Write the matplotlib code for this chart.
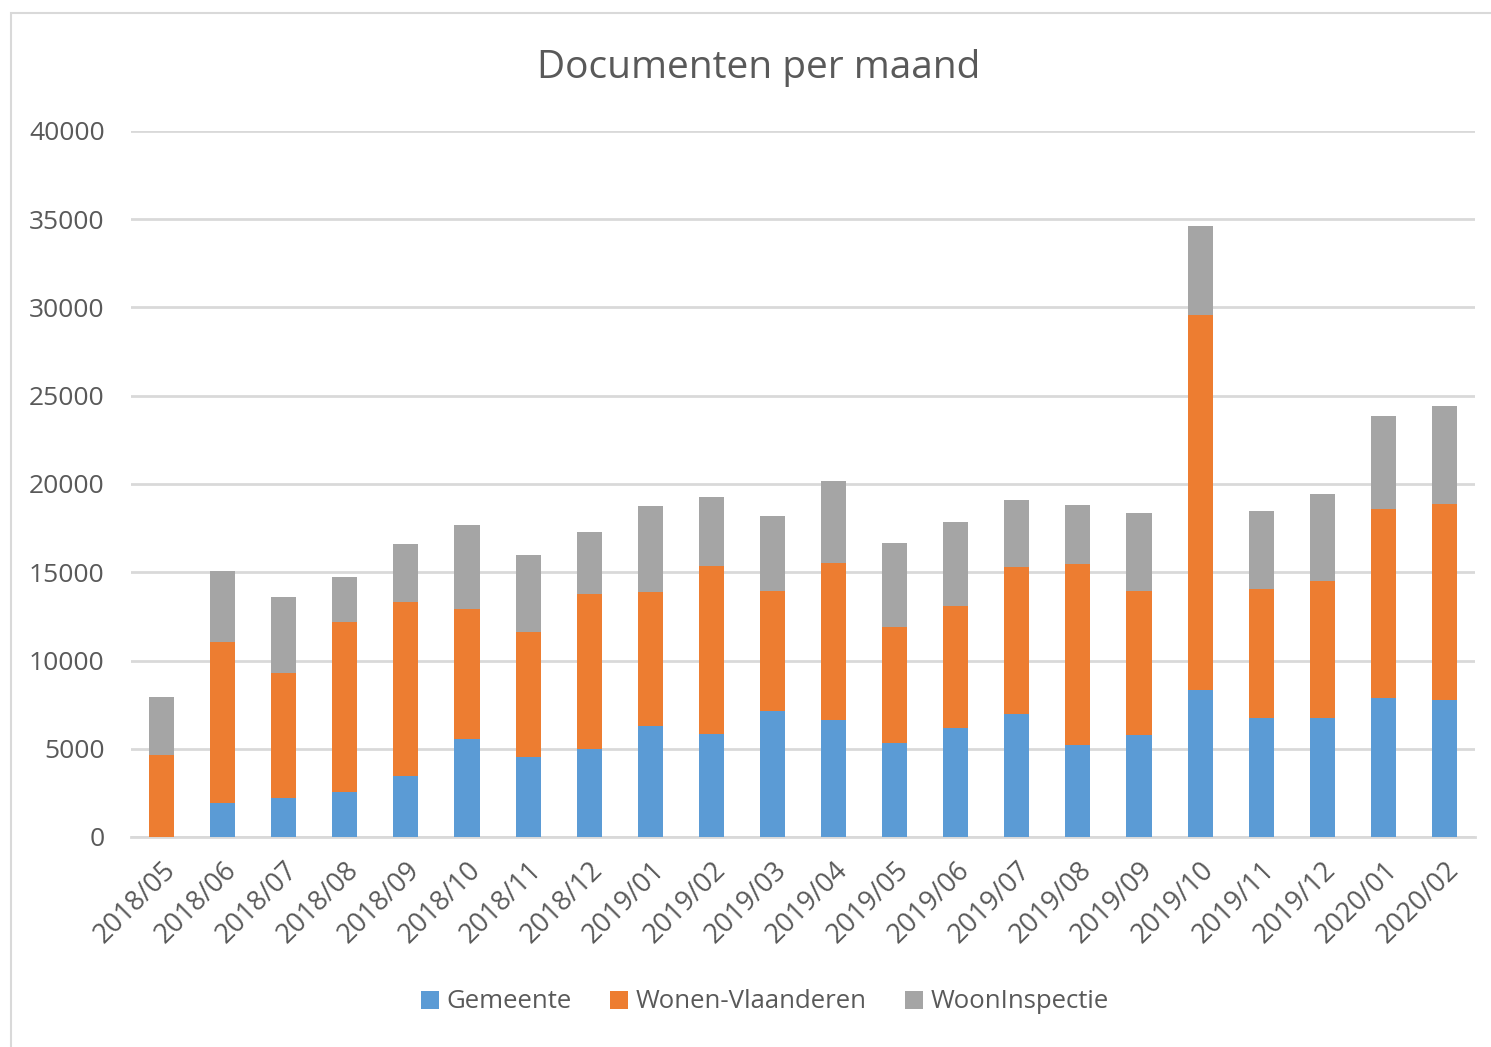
import matplotlib
matplotlib.use('Agg')
import matplotlib.pyplot as plt
from matplotlib.patches import Rectangle
import numpy as np

months = ['2018/05', '2018/06', '2018/07', '2018/08', '2018/09', '2018/10', '2018/11',
          '2018/12', '2019/01', '2019/02', '2019/03', '2019/04', '2019/05', '2019/06',
          '2019/07', '2019/08', '2019/09', '2019/10', '2019/11', '2019/12', '2020/01',
          '2020/02']

# cumulative tops, converted to per-series values below
gemeente = [0, 1930, 2200, 2550, 3460, 5550, 4530, 4990, 6290, 5840, 7140, 6630,
            5330, 6180, 6970, 5210, 5780, 8330, 6740, 6740, 7880, 7760]
wonen_top = [4650, 11050, 9300, 12200, 13300, 12900, 11600, 13770, 13880, 15350, 13940,
             15520, 11900, 13090, 15300, 15470, 13940, 29580, 14050, 14500, 18580, 18870]
total_top = [7950, 15070, 13600, 14730, 16600, 17680, 15980, 17280, 18750, 19260, 18190,
             20170, 16660, 17850, 19090, 18810, 18360, 34620, 18470, 19430, 23850, 24420]

wonen = [w - g for w, g in zip(wonen_top, gemeente)]
inspectie = [t - w for t, w in zip(total_top, wonen_top)]

series = [('Gemeente', gemeente, '#5B9BD5'),
          ('Wonen-Vlaanderen', wonen, '#ED7D31'),
          ('WoonInspectie', inspectie, '#A5A5A5')]

plt.rcParams['font.family'] = ['Open Sans', 'DejaVu Sans']
text_color = '#595959'

fig = plt.figure(figsize=(14.91, 10.47), dpi=100)
fig.patches.append(Rectangle((11 / 1491, -0.1), 1.2, 1 - 13 / 1047 + 0.1,
                             transform=fig.transFigure, fill=False,
                             edgecolor='#D9D9D9', linewidth=1.5))

ax = fig.add_axes([131 / 1491, 1 - 837 / 1047, (1475 - 131) / 1491, (837 - 131) / 1047])

x = np.arange(len(months))
bottom = np.zeros(len(months))
for name, vals, color in series:
    ax.bar(x, vals, width=0.41, bottom=bottom, color=color, label=name, zorder=3)
    bottom += np.array(vals)

ax.set_xlim(-0.5, len(months) - 0.5)
ax.set_ylim(0, 40000)
ax.set_yticks(range(0, 40001, 5000))
ax.yaxis.grid(True, color='#D9D9D9', linewidth=2, zorder=0)
for s in ['top', 'right', 'left']:
    ax.spines[s].set_visible(False)
ax.spines['bottom'].set_color('#D9D9D9')
ax.spines['bottom'].set_linewidth(2)
ax.tick_params(axis='both', length=0, labelcolor=text_color)
ax.tick_params(axis='y', pad=19, labelsize=19)
ax.set_xticks(x)
ax.set_xticklabels(months, rotation=45, ha='right', rotation_mode='anchor')
ax.tick_params(axis='x', pad=14, labelsize=19.5)

fig.text(759 / 1491, 1 - 68 / 1047, 'Documenten per maand', ha='center', va='center',
         fontsize=28, color=text_color)

fig.legend(loc='center', bbox_to_anchor=(765 / 1491, 1 - 1002 / 1047), ncol=3,
           frameon=False, fontsize=18.5, labelcolor=text_color, handlelength=0.7,
           handleheight=0.7, handletextpad=0.3, columnspacing=1.5)

fig.savefig('out.png', dpi=100)
